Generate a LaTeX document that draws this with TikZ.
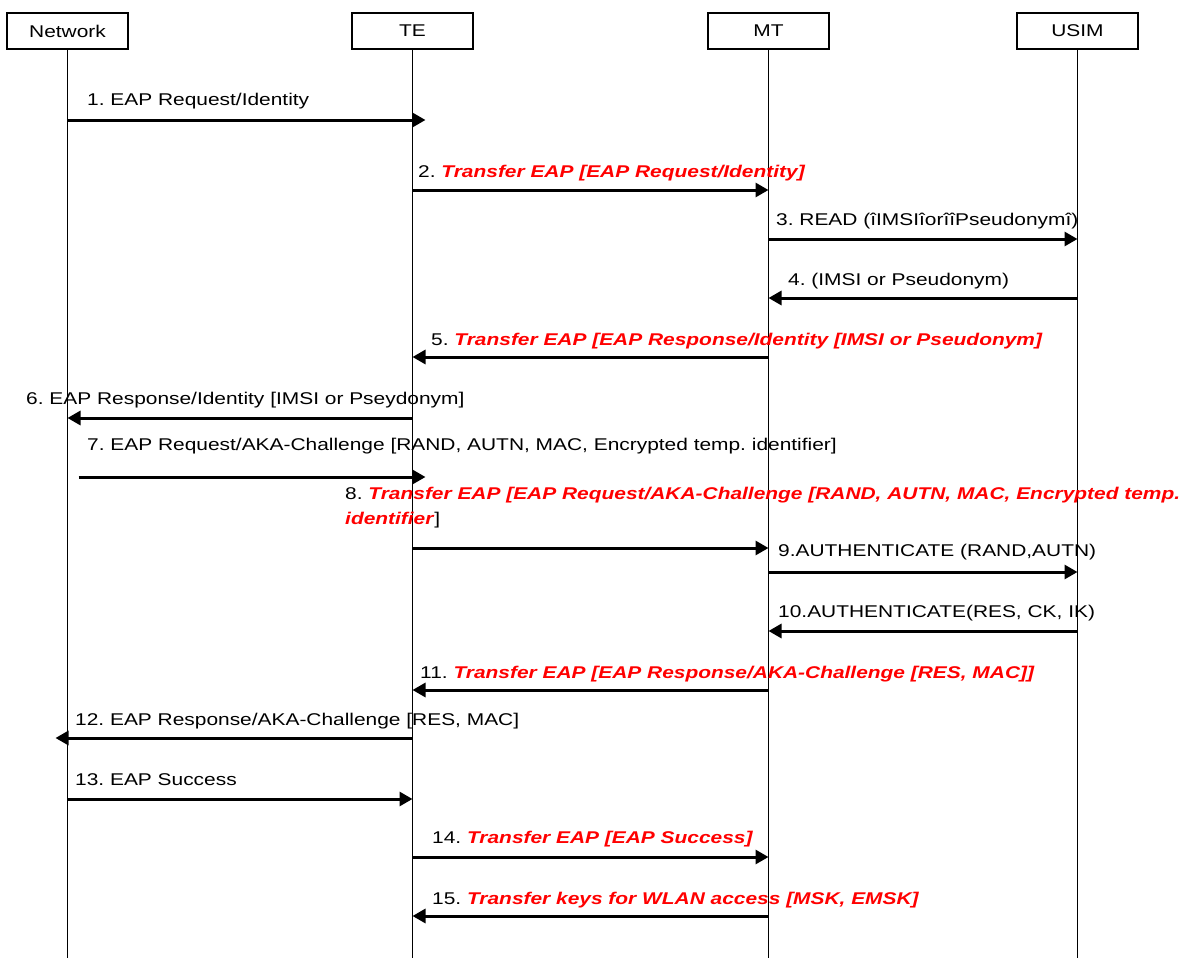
\documentclass[tikz,border=0pt]{standalone}
\usepackage{fontspec}
\setmainfont[FakeStretch=1.23]{Liberation Sans}
\usetikzlibrary{arrows.meta,calc}

\tikzset{
  entity/.style={draw, line width=1.2pt, minimum width=121pt, minimum height=36pt, inner sep=0pt},
  life/.style={line width=1.1pt},
  msg/.style={line width=3pt, -{Triangle[length=13pt,width=14pt]}},
  lbl/.style={anchor=base west, inner sep=0pt, align=left}
}
\newcommand{\xfer}[1]{\textcolor{red}{\textbf{\textit{#1}}}}
\frenchspacing

\begin{document}
\begin{tikzpicture}[line cap=butt,line join=miter,x=1pt,y=-1pt,font=\fontsize{17}{25}\selectfont]
\useasboundingbox (0,0) rectangle (1189,958);

% entities
\node[entity] (net) at (67.5,31) {Network};
\node[entity] (te) at (412.5,31) {TE};
\node[entity] (mt) at (768.5,31) {MT};
\node[entity] (usim) at (1077.5,31) {USIM};

% life lines
\coordinate (bot) at (0,958);
\draw[life] (net.south) -- (net |- bot);
\draw[life] (te.south) -- (te |- bot);
\draw[life] (mt.south) -- (mt |- bot);
\draw[life] (usim.south) -- (usim |- bot);

% message heights
\coordinate (m1) at (0,120);
\coordinate (m2) at (0,190);
\coordinate (m3) at (0,239);
\coordinate (m4) at (0,298);
\coordinate (m5) at (0,357);
\coordinate (m6) at (0,418);
\coordinate (m7) at (0,477);
\coordinate (m8) at (0,548);
\coordinate (m9) at (0,572);
\coordinate (m10) at (0,631);
\coordinate (m11) at (0,690);
\coordinate (m12) at (0,738);
\coordinate (m13) at (0,799);
\coordinate (m14) at (0,857);
\coordinate (m15) at (0,916);

% messages
\draw[msg] (net |- m1) -- ($(te |- m1)+(13,0)$);
\draw[msg] (te |- m2) -- (mt |- m2);
\draw[msg] (mt |- m3) -- (usim |- m3);
\draw[msg] (usim |- m4) -- (mt |- m4);
\draw[msg] (mt |- m5) -- (te |- m5);
\draw[msg] (te |- m6) -- (net |- m6);
\draw[msg] ($(net |- m7)+(11,0)$) -- ($(te |- m7)+(13,0)$);
\draw[msg] (te |- m8) -- (mt |- m8);
\draw[msg] (mt |- m9) -- (usim |- m9);
\draw[msg] (usim |- m10) -- (mt |- m10);
\draw[msg] (mt |- m11) -- (te |- m11);
\draw[msg] (te |- m12) -- ($(net |- m12)+(-12,0)$);
\draw[msg] (net |- m13) -- (te |- m13);
\draw[msg] (te |- m14) -- (mt |- m14);
\draw[msg] (mt |- m15) -- (te |- m15);

% labels
\node[lbl] (l1) at (87,106) {1. EAP Request/Identity};
\node[lbl] (l2) at (418,177) {2. \xfer{Transfer EAP [EAP Request/Identity]}};
\node[lbl] (l3) at (776,225) {3. READ (îIMSIîorîîPseudonymî)};
\node[lbl] (l4) at (788,285) {4. (IMSI or Pseudonym)};
\node[lbl] (l5) at (431,345) {5. \xfer{Transfer EAP [EAP Response/Identity [IMSI or Pseudonym]}};
\node[lbl] (l6) at (26,404) {6. EAP Response/Identity [IMSI or Pseydonym]};
\node[lbl] (l7) at (87,450) {7. EAP Request/AKA-Challenge [RAND, AUTN, MAC, Encrypted temp. identifier]};
\node[lbl] (l8) at (345,524) {8. \xfer{Transfer EAP [EAP Request/AKA-Challenge [RAND, AUTN, MAC, Encrypted temp.}\\\xfer{identifier}]};
\node[lbl] (l9) at (778,556) {9.AUTHENTICATE (RAND,AUTN)};
\node[lbl] (l10) at (778,617) {10.AUTHENTICATE(RES, CK, IK)};
\node[lbl] (l11) at (420,678) {11. \xfer{Transfer EAP [EAP Response/AKA-Challenge [RES, MAC]]}};
\node[lbl] (l12) at (75,725) {12. EAP Response/AKA-Challenge [RES, MAC]};
\node[lbl] (l13) at (75,785) {13. EAP Success};
\node[lbl] (l14) at (432,843) {14. \xfer{Transfer EAP [EAP Success]}};
\node[lbl] (l15) at (432,904) {15. \xfer{Transfer keys for WLAN access [MSK, EMSK]}};
\end{tikzpicture}
\end{document}
